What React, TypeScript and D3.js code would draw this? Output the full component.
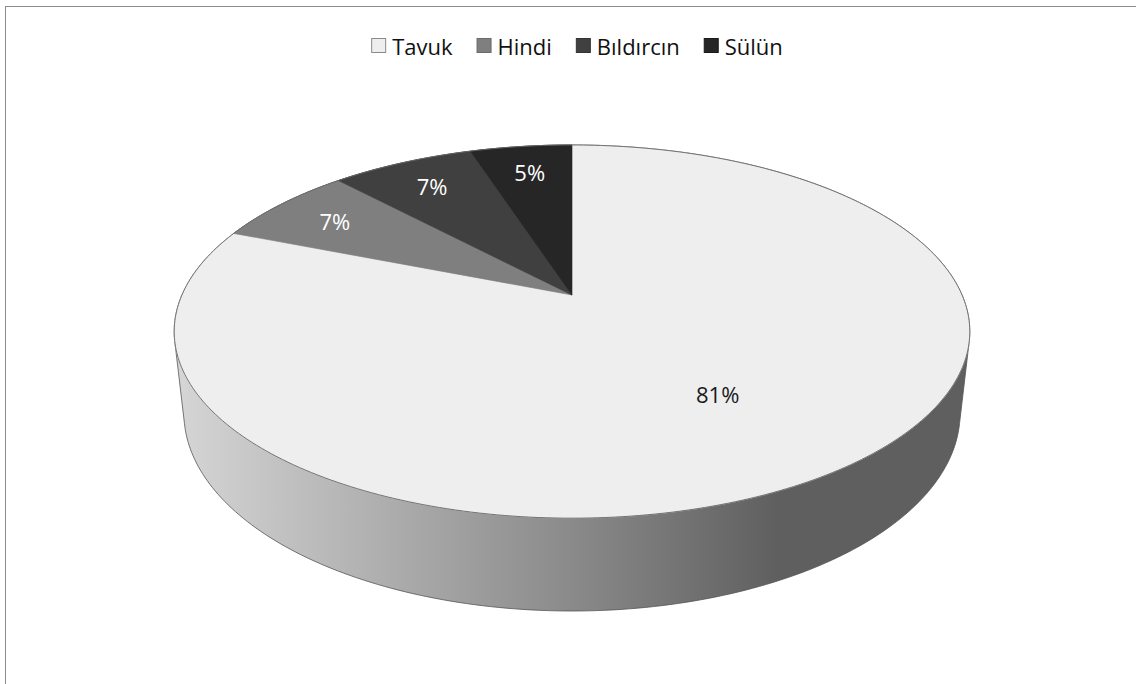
import React from "react";
import * as d3 from "d3";

const categories = ["Tavuk", "Hindi", "Bıldırcın", "Sülün"];
const values = [81, 7, 7, 5];
const topColors = ["#eeeeee", "#7f7f7f", "#404040", "#262626"];
const labelColors = ["#1a1a1a", "#ffffff", "#ffffff", "#ffffff"];
const legendStroke = ["#8a8a8a", "#6a6a6a", "#333333", "#1a1a1a"];

const W = 1136;
const H = 684;
const FONT = '"Open Sans", "DejaVu Sans", sans-serif';

// 3D projection parameters
const CX = 572;
const CY = 295;
const FOCAL = 1767;
const DIST = 4.53;
const RAD = 1;
const THICK = 0.2375;
const SIN_A = 0.46;
const COS_A = Math.sqrt(1 - SIN_A * SIN_A);

function project(theta: number, r: number, y: number): [number, number] {
  const X = r * RAD * Math.sin(theta);
  const Z = r * RAD * Math.cos(theta);
  const yc = y * COS_A + Z * SIN_A;
  const zc = DIST + Z * COS_A - y * SIN_A;
  return [CX + (FOCAL * X) / zc, CY - (FOCAL * yc) / zc];
}

function measure(text: string, font: string): number {
  const c = document.createElement("canvas").getContext("2d");
  if (!c) return text.length * 11;
  c.font = font;
  return c.measureText(text).width;
}

export default function App() {
  const total = d3.sum(values);
  const arcs = d3
    .pie<number>()
    .sort(null)
    .startAngle(0)
    .endAngle(2 * Math.PI)(values);

  const N = 360;
  const rimTop: [number, number][] = d3.range(N).map((i) => project((i / N) * 2 * Math.PI, 1, 0));
  const rimBot: [number, number][] = d3.range(N).map((i) => project((i / N) * 2 * Math.PI, 1, -THICK));
  const hull = d3.polygonHull([...rimTop, ...rimBot]) || [];
  const xExt = d3.extent(hull, (p) => p[0]) as [number, number];

  const line = d3.line<[number, number]>();

  const slicePaths = arcs.map((a) => {
    const steps = Math.max(4, Math.ceil(((a.endAngle - a.startAngle) / (2 * Math.PI)) * N));
    const pts: [number, number][] = [project(0, 0, 0)];
    for (let i = 0; i <= steps; i++) {
      const t = a.startAngle + ((a.endAngle - a.startAngle) * i) / steps;
      pts.push(project(t, 1, 0));
    }
    return line(pts) + "Z";
  });

  const ellipsePath = line(rimTop) + "Z";

  const labels = arcs.map((a, i) => {
    const mid = (a.startAngle + a.endAngle) / 2;
    const frac = values[i] / total;
    const r = frac > 0.25 ? 0.6 : 0.8;
    const [x, y] = project(mid, r, 0);
    return { x, y, text: Math.round(frac * 100) + "%", color: labelColors[i] };
  });

  // legend layout
  const legendFont = `22px ${FONT}`;
  const sq = 15;
  const gapText = 6;
  const gapItem = 24;
  const widths = categories.map((c) => measure(c, legendFont));
  const itemW = widths.map((w) => sq + gapText + w);
  const totalW = d3.sum(itemW) + gapItem * (categories.length - 1);
  const legendCenter = 577;
  const legendY = 46;
  let lx = legendCenter - totalW / 2;
  const legendItems = categories.map((c, i) => {
    const item = { x: lx, name: c, color: topColors[i], stroke: legendStroke[i] };
    lx += itemW[i] + gapItem;
    return item;
  });

  return (
    <svg
      width={W}
      height={H}
      style={{ position: "absolute", left: 0, top: 0, background: "#ffffff" }}
      fontFamily={FONT}
    >
      <defs>
        <linearGradient id="sideGrad" gradientUnits="userSpaceOnUse" x1={xExt[0]} x2={xExt[1]} y1={0} y2={0}>
          <stop offset="0" stopColor="#d6d6d6" />
          <stop offset="0.5" stopColor="#8a8a8a" />
          <stop offset="0.76" stopColor="#5f5f5f" />
          <stop offset="1" stopColor="#5f5f5f" />
        </linearGradient>
      </defs>
      <rect x={0} y={0} width={W} height={H} fill="#ffffff" />
      <rect x={5.5} y={6.5} width={W + 20} height={H + 20} fill="none" stroke="#8c8c8c" strokeWidth={1} />

      {/* side of the cylinder */}
      <path d={line(hull as [number, number][]) + "Z"} fill="url(#sideGrad)" stroke="#555555" strokeWidth={0.8} />

      {/* top slices */}
      {slicePaths.map((d, i) => (
        <path key={i} d={d} fill={topColors[i]} stroke={topColors[i]} strokeWidth={0.6} strokeLinejoin="round" />
      ))}
      <path d={ellipsePath} fill="none" stroke="#666666" strokeWidth={0.9} />

      {/* labels */}
      {labels.map((l, i) => (
        <text
          key={i}
          x={l.x}
          y={l.y}
          fill={l.color}
          fontSize={22}
          textAnchor="middle"
          dominantBaseline="central"
        >
          {l.text}
        </text>
      ))}

      {/* legend */}
      {legendItems.map((it, i) => (
        <g key={i}>
          <rect x={it.x + 0.5} y={legendY - 7.5} width={sq - 1} height={sq - 1} fill={it.color} stroke={it.stroke} strokeWidth={1} />
          <text x={it.x + sq + gapText} y={legendY} fontSize={22} fill="#111111" dominantBaseline="central">
            {it.name}
          </text>
        </g>
      ))}
    </svg>
  );
}
